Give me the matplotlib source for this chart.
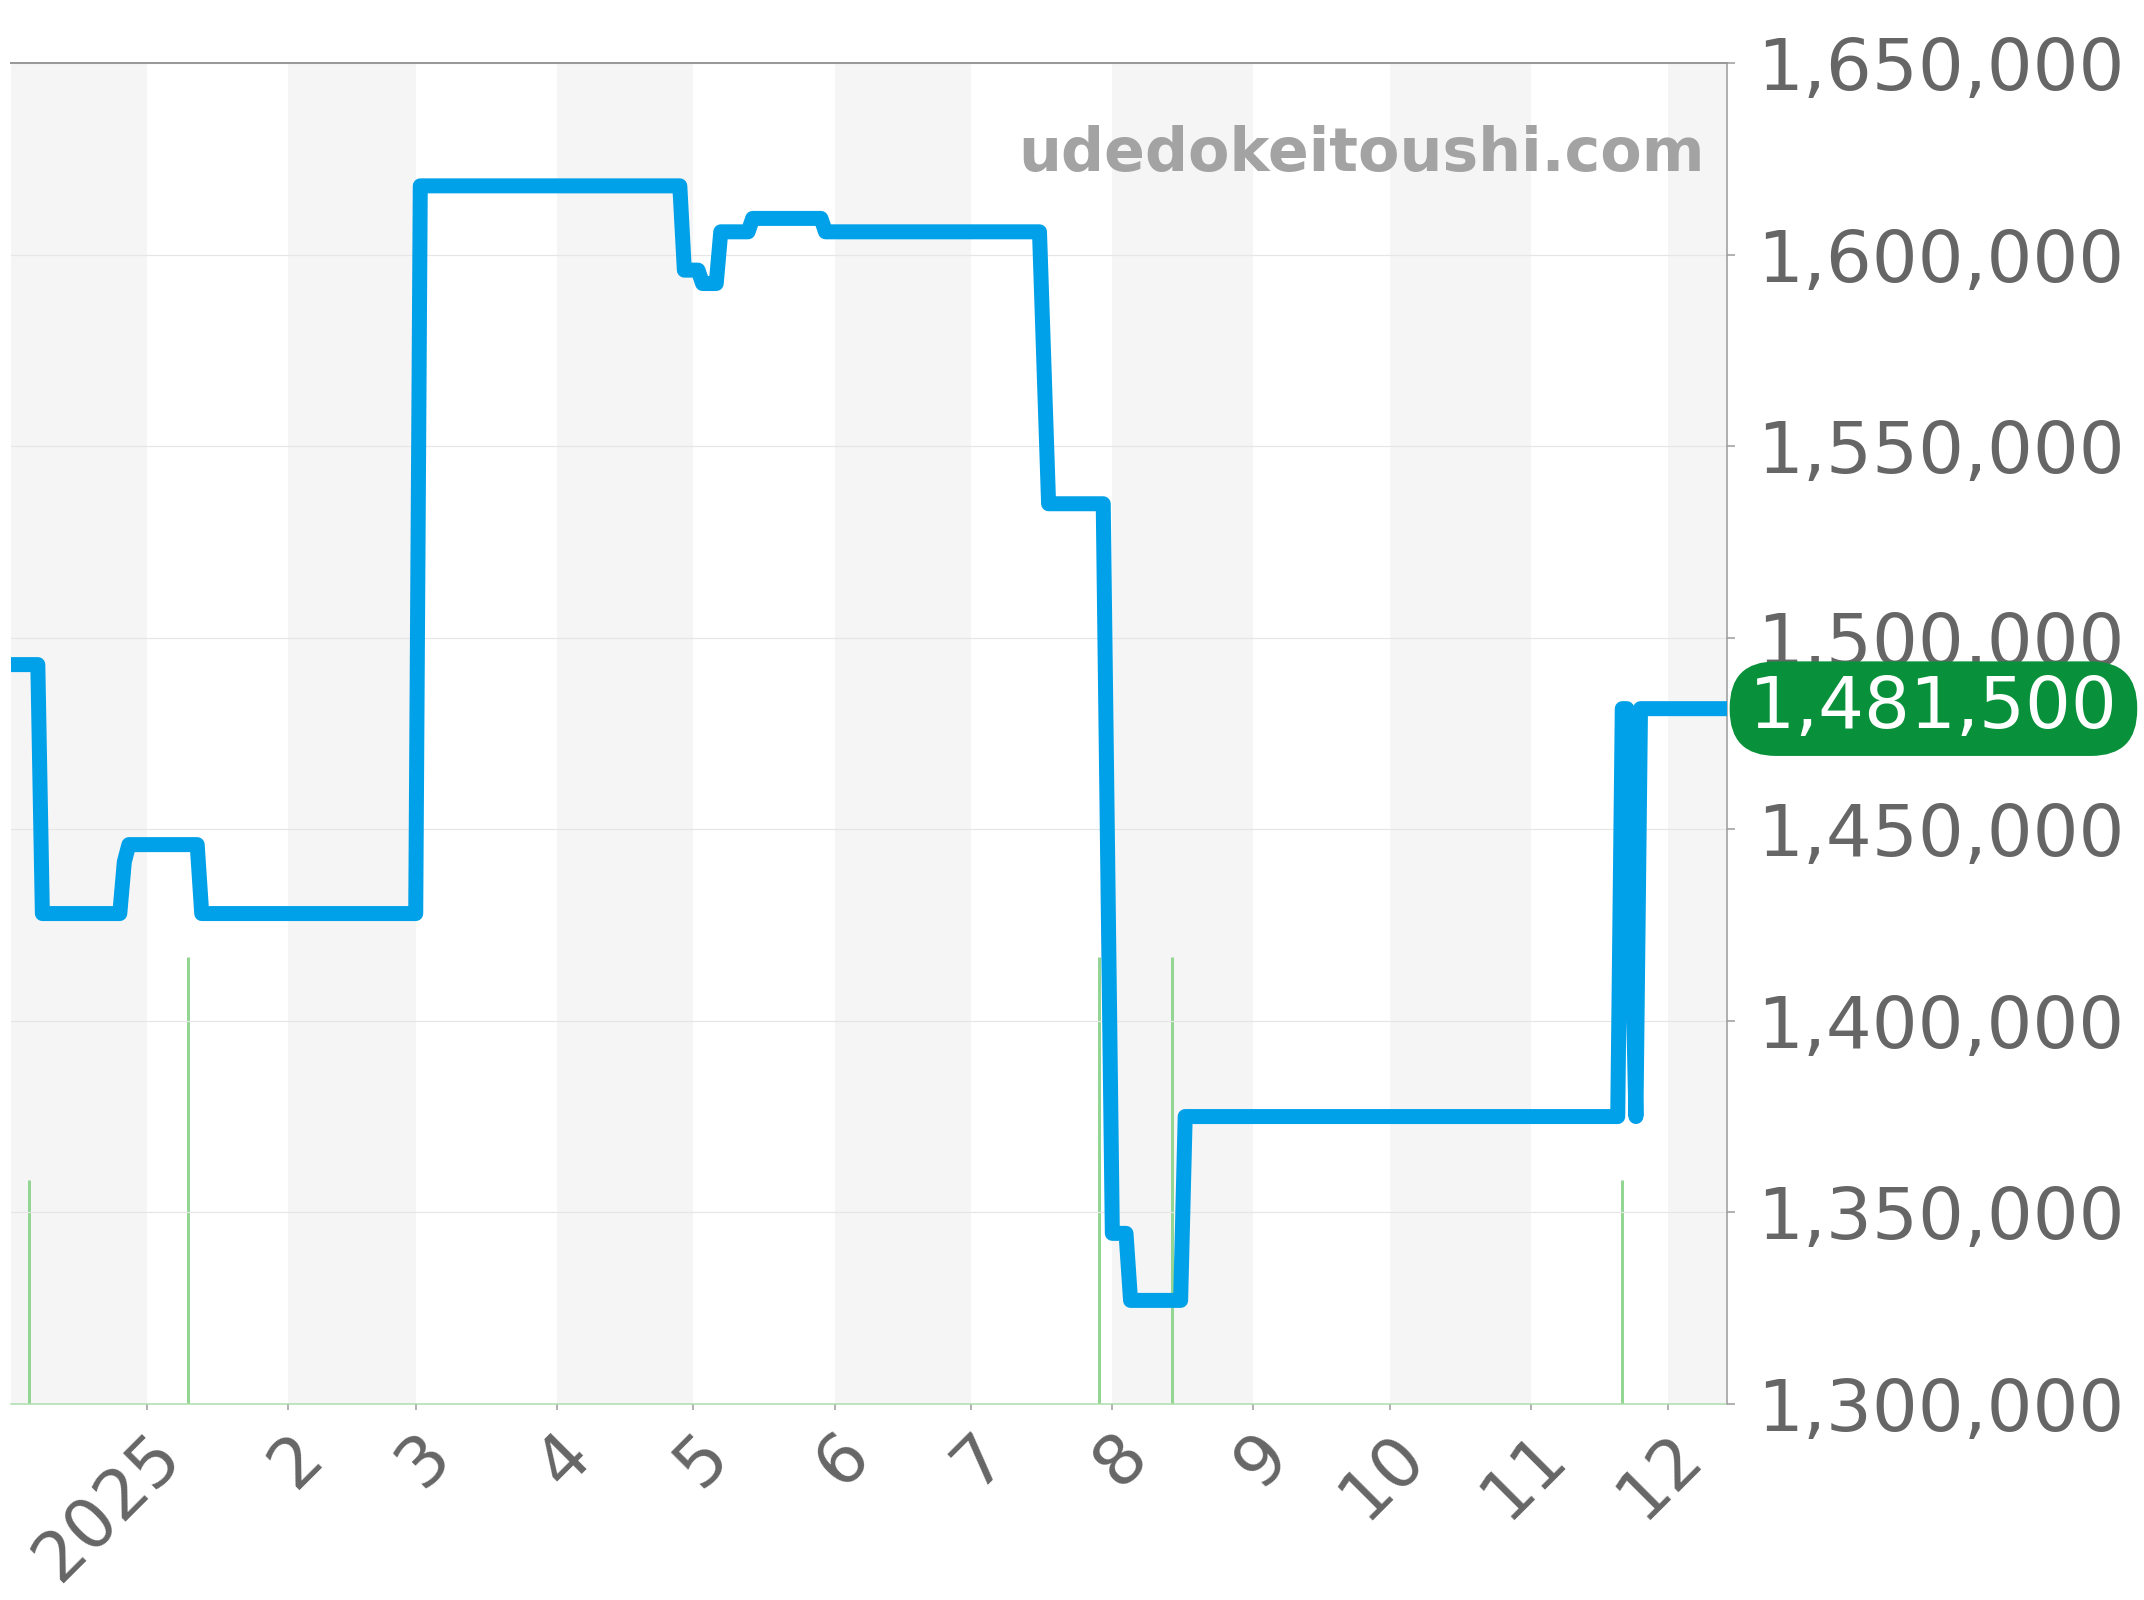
import matplotlib
matplotlib.use("Agg")
import matplotlib.pyplot as plt
import matplotlib.dates as mdates
import matplotlib.transforms as mtransforms
from matplotlib.ticker import FuncFormatter, FixedLocator
import pandas as pd

# ---------------- data ----------------
price_dates = [
    "2024-12-02", "2024-12-08", "2024-12-09", "2024-12-26", "2024-12-27",
    "2024-12-28", "2025-01-12", "2025-01-13", "2025-03-01", "2025-03-02",
    "2025-04-28", "2025-04-29", "2025-05-02", "2025-05-03", "2025-05-06",
    "2025-05-07", "2025-05-13", "2025-05-14", "2025-05-29", "2025-05-30",
    "2025-07-16", "2025-07-18", "2025-07-30", "2025-08-01", "2025-08-04",
    "2025-08-05", "2025-08-16", "2025-08-17", "2025-11-20", "2025-11-21",
    "2025-11-22", "2025-11-24", "2025-11-25", "2025-12-14",
]
price_values = [
    1493000, 1493000, 1428000, 1428000, 1441500,
    1446000, 1446000, 1428000, 1428000, 1618000,
    1618000, 1596000, 1596000, 1592500, 1592500,
    1606000, 1606000, 1609500, 1609500, 1606000,
    1606000, 1535000, 1535000, 1344500, 1344500,
    1327000, 1327000, 1375000, 1375000, 1481500,
    1481500, 1375000, 1481500, 1481500,
]

volume_dates = ["2024-12-06", "2025-01-10", "2025-07-29", "2025-08-14", "2025-11-21"]
volume_values = [1, 2, 2, 2, 1]

tick_dates = ["2025-01-01", "2025-02-01", "2025-03-01", "2025-04-01", "2025-05-01",
              "2025-06-01", "2025-07-01", "2025-08-01", "2025-09-01", "2025-10-01",
              "2025-11-01", "2025-12-01"]
tick_labels = ["2025", "2", "3", "4", "5", "6", "7", "8", "9", "10", "11", "12"]

y_ticks = [1300000, 1350000, 1400000, 1450000, 1500000, 1550000, 1600000, 1650000]

x_start, x_end = "2024-12-02", "2025-12-14"
watermark = "udedokeitoushi.com"

# ---------------- figure ----------------
W, H, DPI = 2144, 1600, 200
fig = plt.figure(figsize=(W / DPI, H / DPI), dpi=DPI)
px = 72.0 / DPI  # one pixel in points

left, right, top, bottom = 10.5, 1727, 63.3, 1403.8
axv = fig.add_axes([left / W, 1 - bottom / H, (right - left) / W, (bottom - top) / H])
axp = axv.twinx()

pd_dates = mdates.date2num(pd.to_datetime(price_dates))
vd = mdates.date2num(pd.to_datetime(volume_dates))
td = mdates.date2num(pd.to_datetime(tick_dates))
x0 = mdates.date2num(pd.to_datetime(x_start))
x1 = mdates.date2num(pd.to_datetime(x_end))

# month bands (alternate shading)
month_starts = pd.date_range("2024-12-01", "2026-01-01", freq="MS")
for i in range(len(month_starts) - 1):
    if i % 2 == 0:
        axv.axvspan(mdates.date2num(month_starts[i]), mdates.date2num(month_starts[i + 1]),
                    color="#f5f5f5", lw=0, zorder=0)

# volume bars
axv.vlines(vd, 0, volume_values, color="#93d593", lw=3 * px, zorder=2)
axv.set_ylim(0, 6)
axv.set_yticks([])
axv.set_xlim(x0, x1)

# price line
axp.plot(pd_dates, price_values, color="#00a1e9", lw=15 * px,
         solid_joinstyle="round", solid_capstyle="butt", zorder=3)
axp.set_ylim(1300000, 1650000)
axp.set_xlim(x0, x1)
axp.yaxis.set_major_locator(FixedLocator(y_ticks))
axp.yaxis.set_major_formatter(FuncFormatter(lambda v, p: f"{int(v):,}"))
axp.grid(axis="y", color="#e6e6e6", lw=1.2 * px, zorder=1)
axp.set_axisbelow(True)

axp.tick_params(axis="y", which="major", right=True, left=False, labelright=True,
                length=8 * px, width=1.5 * px, color="#999999",
                labelsize=26, labelcolor="#666666", pad=8)

# x ticks
axv.set_xticks(td)
axv.set_xticklabels(tick_labels)
axv.tick_params(axis="x", length=6 * px, width=1.5 * px, color="#999999",
                labelsize=25, labelcolor="#666666", pad=4)
for lab in axv.get_xticklabels():
    lab.set_rotation(45)
    lab.set_ha("right")
    lab.set_va("top")
    lab.set_rotation_mode("anchor")

# spines
for a in (axv, axp):
    a.spines["left"].set_visible(False)
axv.spines["right"].set_visible(False)
axp.spines["bottom"].set_visible(False)
axv.spines["top"].set_visible(False)
axp.spines["top"].set_color("#999999")
axp.spines["top"].set_linewidth(2 * px)
axp.spines["right"].set_color("#999999")
axp.spines["right"].set_linewidth(1.5 * px)
axv.spines["bottom"].set_color("#a8dca8")
axv.spines["bottom"].set_linewidth(1.5 * px)
axv.spines["bottom"].set_linestyle((0, (1, 1)))

# watermark
axp.text(0.987, 0.920, watermark, transform=axp.transAxes, ha="right", va="baseline",
         fontsize=21.7, fontweight="bold", color="#a3a3a3", zorder=4)

# last price badge
last = price_values[-1]
trans = mtransforms.blended_transform_factory(axp.transAxes, axp.transData)
axp.text(1.009, last, f"\u200a{last:,}\u200a", transform=trans, ha="left", va="center",
         fontsize=26, color="white", clip_on=False, zorder=6,
         bbox=dict(boxstyle="round,pad=0.177,rounding_size=0.64", fc="#08913a", ec="none"))

fig.savefig("out.png", dpi=DPI)
